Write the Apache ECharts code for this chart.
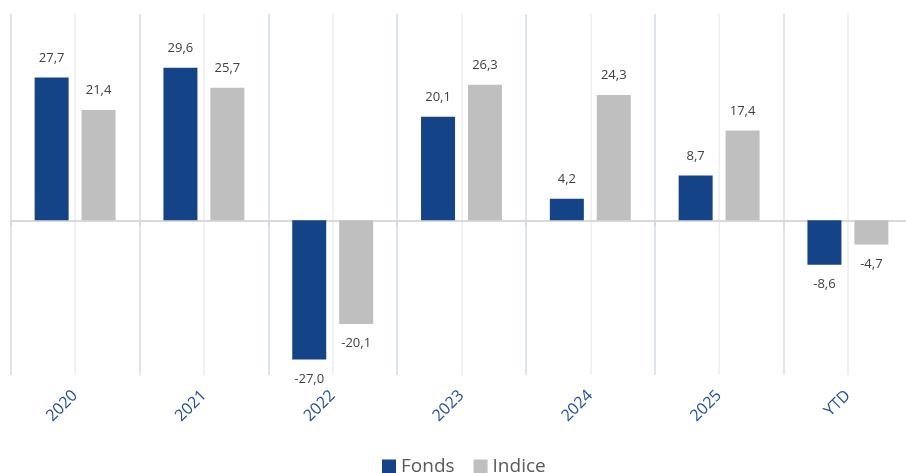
<!DOCTYPE html>
<html>
    <head>
        <meta charset="utf-8">
        <script src="https://cdn.jsdelivr.net/npm/echarts@6/dist/echarts.min.js"></script>
    </head>
    <body>
        <style>
            html, body, #main {
                width: 906px;
                height: 473px;
                margin: 0;
                background: #fff;
            }
        </style>
        <div id="main"></div>
        <script>
            var categories = ['2020', '2021', '2022', '2023', '2024', '2025', 'YTD'];
            var fonds = [27.7, 29.6, -27.0, 20.1, 4.2, 8.7, -8.6];
            var indice = [21.4, 25.7, -20.1, 26.3, 24.3, 17.4, -4.7];

            var chart = echarts.init(document.getElementById('main'));

            function fmt(p) {
                return p.value.toFixed(1).replace('.', ',');
            }

            function labelOf(list) {
                // labels go above positive bars and below negative ones
                return list.map(function (v) {
                    return {
                        value: v,
                        label: { position: v < 0 ? 'bottom' : 'top' }
                    };
                });
            }

            var labelStyle = {
                show: true,
                distance: 13,
                color: '#404040',
                fontSize: 13,
                fontFamily: 'Open Sans',
                formatter: fmt
            };

            chart.setOption({
                animation: false,
                grid: {
                    left: 10.7,
                    top: 14,
                    width: 901.6,
                    height: 361,
                    outerBoundsMode: 'none',
                    containLabel: false
                },
                legend: {
                    left: 377,
                    top: 452,
                    icon: 'rect',
                    itemWidth: 14,
                    itemHeight: 14,
                    itemGap: 19,
                    textStyle: {
                        color: '#595959',
                        fontSize: 19,
                        fontFamily: 'Open Sans'
                    },
                    data: ['Fonds', 'Indice']
                },
                xAxis: [
                    {
                        type: 'category',
                        data: categories,
                        axisLine: { show: false, onZero: false },
                        axisTick: { show: false },
                        splitLine: { show: false },
                        axisLabel: {
                            rotate: 45,
                            margin: 18,
                            color: '#1f4e9a',
                            fontSize: 16,
                            fontFamily: 'Open Sans'
                        }
                    },
                    {
                        // zero line with its boundary ticks
                        type: 'category',
                        data: categories,
                        position: 'bottom',
                        axisLine: {
                            show: true,
                            onZero: true,
                            lineStyle: { color: '#d9d9d9', width: 2 }
                        },
                        axisTick: {
                            show: true,
                            length: 6,
                            lineStyle: { color: '#d9d9d9', width: 2 }
                        },
                        axisLabel: { show: false },
                        splitLine: { show: false }
                    },
                    {
                        // vertical grid lines at boundaries and centres
                        type: 'value',
                        min: 0,
                        max: 14,
                        interval: 1,
                        show: true,
                        axisLine: { show: false, onZero: false },
                        axisTick: { show: false },
                        axisLabel: { show: false },
                        splitLine: {
                            show: true,
                            lineStyle: { color: ['#d5ddea', '#ececec'], width: 1.5 }
                        }
                    }
                ],
                yAxis: {
                    type: 'value',
                    min: -30,
                    max: 40,
                    show: false,
                    splitLine: { show: false }
                },
                series: [
                    {
                        name: 'Fonds',
                        type: 'bar',
                        xAxisIndex: 0,
                        barWidth: 34,
                        barGap: '38%',
                        itemStyle: { color: '#154388' },
                        label: labelStyle,
                        data: labelOf(fonds)
                    },
                    {
                        name: 'Indice',
                        type: 'bar',
                        xAxisIndex: 0,
                        barWidth: 34,
                        barGap: '38%',
                        itemStyle: { color: '#bfbfbf' },
                        label: labelStyle,
                        data: labelOf(indice)
                    }
                ]
            });
        </script>
    </body>
</html>
